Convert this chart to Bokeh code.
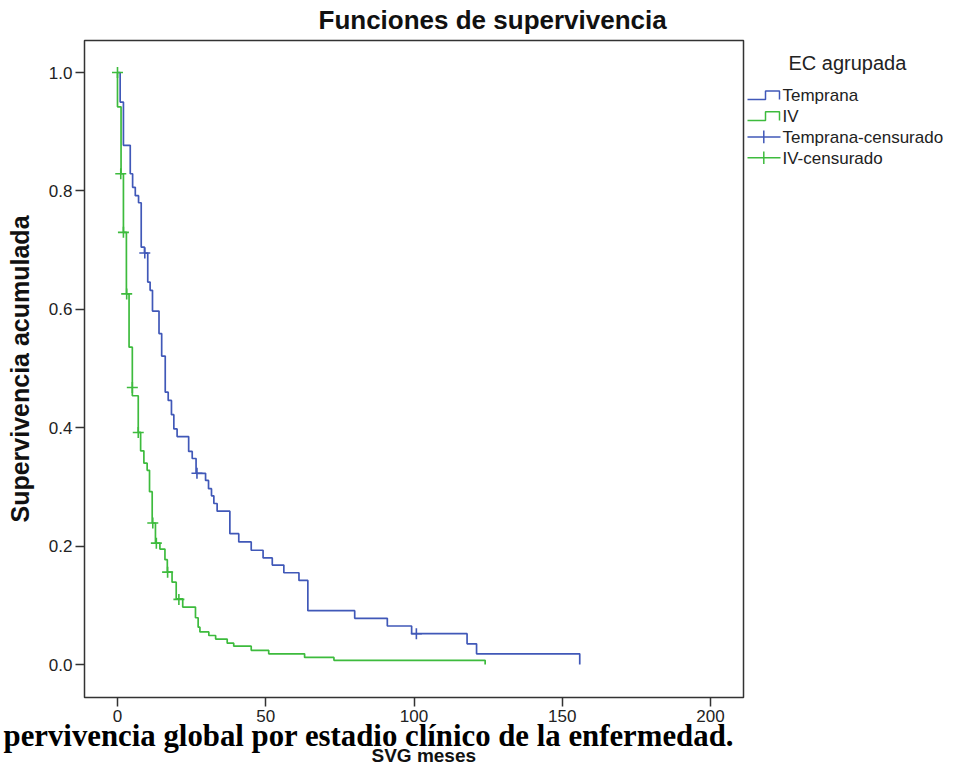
import math
from bokeh.plotting import figure
from bokeh.models import Range1d, FixedTicker, NumeralTickFormatter, Title
from bokeh.layouts import row
from bokeh.embed import file_html
from bokeh.resources import INLINE
from bokeh.core.properties import value

# ---------------- data ----------------
title_text = "Funciones de supervivencia"
x_label = "SVG meses"
y_label = "Supervivencia acumulada"
legend_title = "EC agrupada"
legend_labels = ["Temprana", "IV", "Temprana-censurado", "IV-censurado"]
caption = "pervivencia global por estadio clínico de la enfermedad."

x_ticks = [0, 50, 100, 150, 200]
y_ticks = [0.0, 0.2, 0.4, 0.6, 0.8, 1.0]

temprana_t = [0, 0.9, 2.0, 4.3, 5.1, 6.0, 7.1, 8.0, 9.1, 10.2,
              11.0, 11.8, 14.0, 14.9, 16.1, 17.1, 18.2, 19.0, 20.1, 24.0,
              25.2, 26.5, 29.7, 30.7, 31.7, 32.5, 33.6, 37.9, 40.9, 45.1,
              49.1, 52.2, 56.1, 61.2, 64.2, 80.0, 91.0, 99.2, 117.9, 121.1,
              155.9]
temprana_s = [1.0, 0.950, 0.877, 0.829, 0.806, 0.792, 0.780, 0.705, 0.695, 0.646,
              0.632, 0.597, 0.559, 0.521, 0.460, 0.446, 0.422, 0.398, 0.385, 0.360,
              0.348, 0.323, 0.311, 0.297, 0.285, 0.272, 0.259, 0.221, 0.207, 0.193,
              0.180, 0.168, 0.155, 0.142, 0.091, 0.078, 0.065, 0.052, 0.035, 0.018,
              0.0]
temprana_cens_t = [9.2, 26.8, 100.8]
temprana_cens_s = [0.695, 0.323, 0.052]

iv_t = [0, 0, 1.2, 2.0, 3.0, 3.9, 5.0, 7.0, 7.8, 8.9,
        10.0, 10.8, 11.7, 12.8, 14.3, 16.0, 16.8, 18.4, 19.8, 22.0,
        26.3, 27.2, 27.8, 30.8, 33.1, 37.0, 39.2, 45.1, 51.0, 63.1,
        73.0, 124.0]
iv_s = [1.0, 0.942, 0.829, 0.730, 0.626, 0.536, 0.454, 0.392, 0.361, 0.340,
        0.328, 0.292, 0.239, 0.205, 0.195, 0.177, 0.156, 0.139, 0.111, 0.097,
        0.079, 0.063, 0.055, 0.049, 0.043, 0.036, 0.031, 0.024, 0.018, 0.012,
        0.007, 0.0]
iv_cens_t = [0.0, 1.1, 2.0, 3.1, 5.0, 7.0, 11.9, 13.1, 16.9, 20.7]
iv_cens_s = [1.0, 0.829, 0.730, 0.626, 0.468, 0.392, 0.239, 0.205, 0.156, 0.110]

# ---------------- styling ----------------
BLUE = "#4058B8"
GREEN = "#3DBB3D"
FONT = "Liberation Sans"
INK = "#222222"

# frame in page pixels: left 84, right 743, top 40, bottom 697
PX0, PX_PER_X = 117.0, 2.965
PY0, PX_PER_Y = 664.0, 592.0


def dx(px):
    return (px - PX0) / PX_PER_X


def dy(py):
    return (PY0 - py) / PX_PER_Y


p = figure(width=746, height=769, title=None,
           x_range=Range1d(dx(84), dx(743)), y_range=Range1d(dy(697), dy(40)),
           output_backend="svg", toolbar_location=None,
           min_border_left=84, min_border_right=3, min_border_top=40, min_border_bottom=72)
p.background_fill_color = "white"
p.border_fill_color = "white"
p.grid.grid_line_color = None
p.outline_line_color = "#333333"
p.outline_line_width = 1.5

p.xaxis.ticker = FixedTicker(ticks=x_ticks)
p.yaxis.ticker = FixedTicker(ticks=y_ticks)
p.yaxis.formatter = NumeralTickFormatter(format="0.0")
for ax in (p.xaxis, p.yaxis):
    ax.axis_line_color = None
    ax.minor_tick_line_color = None
    ax.major_tick_in = 0
    ax.major_tick_out = 9
    ax.major_tick_line_width = 1.5
    ax.major_tick_line_color = "#333333"
    ax.major_label_standoff = 3
    ax.major_label_text_font = FONT
    ax.major_label_text_font_size = "17px"
    ax.major_label_text_color = INK

p.yaxis.axis_label = y_label
p.yaxis.axis_label_text_font = FONT
p.yaxis.axis_label_text_font_size = "25px"
p.yaxis.axis_label_text_font_style = "bold"
p.yaxis.axis_label_text_color = "#111111"
p.yaxis.axis_label_standoff = 12

# curves
p.step(temprana_t, temprana_s, mode="after", line_color=BLUE, line_width=1.7)
p.step(iv_t, iv_s, mode="after", line_color=GREEN, line_width=1.7)
p.scatter(temprana_cens_t, temprana_cens_s, marker="cross", size=11,
          line_color=BLUE, line_width=1.6)
p.scatter(iv_cens_t, iv_cens_s, marker="cross", size=11,
          line_color=GREEN, line_width=1.6)

# title (above), caption and x label (below)
p.add_layout(Title(text=title_text, align="left", offset=234, vertical_align="top",
                   standoff=8, text_font=FONT, text_font_size="26px",
                   text_font_style="bold", text_color="#111111"), "above")
p.add_layout(Title(text=caption, align="left", offset=-81, vertical_align="bottom",
                   standoff=-16, text_font="Liberation Serif", text_font_size="30.8px",
                   text_font_style="bold", text_color="black"), "below")
p.add_layout(Title(text=x_label, align="left", offset=287, vertical_align="bottom",
                   standoff=-3, text_font=FONT, text_font_size="19px",
                   text_font_style="bold", text_color="#111111"), "below")

# ---------------- legend panel ----------------
leg = figure(width=210, height=769, title=None,
             x_range=Range1d(746, 956), y_range=Range1d(697, 40),
             output_backend="svg", toolbar_location=None,
             x_axis_location=None, y_axis_location=None, min_border=0)
leg.grid.grid_line_color = None
leg.outline_line_color = None
leg.background_fill_color = "white"
leg.border_fill_color = "white"

leg.text(x=[788], y=[62], text=[legend_title], text_font=value(FONT),
         text_font_size="20px", text_baseline="middle", text_color=INK)

colors = [BLUE, GREEN, BLUE, GREEN]
kinds = ["step", "step", "cross", "cross"]
for i, (lab, col, kind) in enumerate(zip(legend_labels, colors, kinds)):
    b = 101.5 + 20.8 * i
    if kind == "step":
        leg.line([747, 765, 765, 779, 779], [b - 2.4, b - 2.4, b - 11, b - 11, b - 2.4],
                 line_color=col, line_width=1.5)
    else:
        leg.line([747, 780], [b - 6.6, b - 6.6], line_color=col, line_width=1.5)
        leg.line([763.3, 763.3], [b - 13, b - 0.3], line_color=col, line_width=1.5)
    leg.text(x=[782], y=[b - 6.2], text=[lab], text_font=value(FONT), text_font_size="17px",
             text_baseline="middle", text_color=INK)

layout = row(p, leg)
open("out.html", "w").write(file_html(layout, INLINE))
